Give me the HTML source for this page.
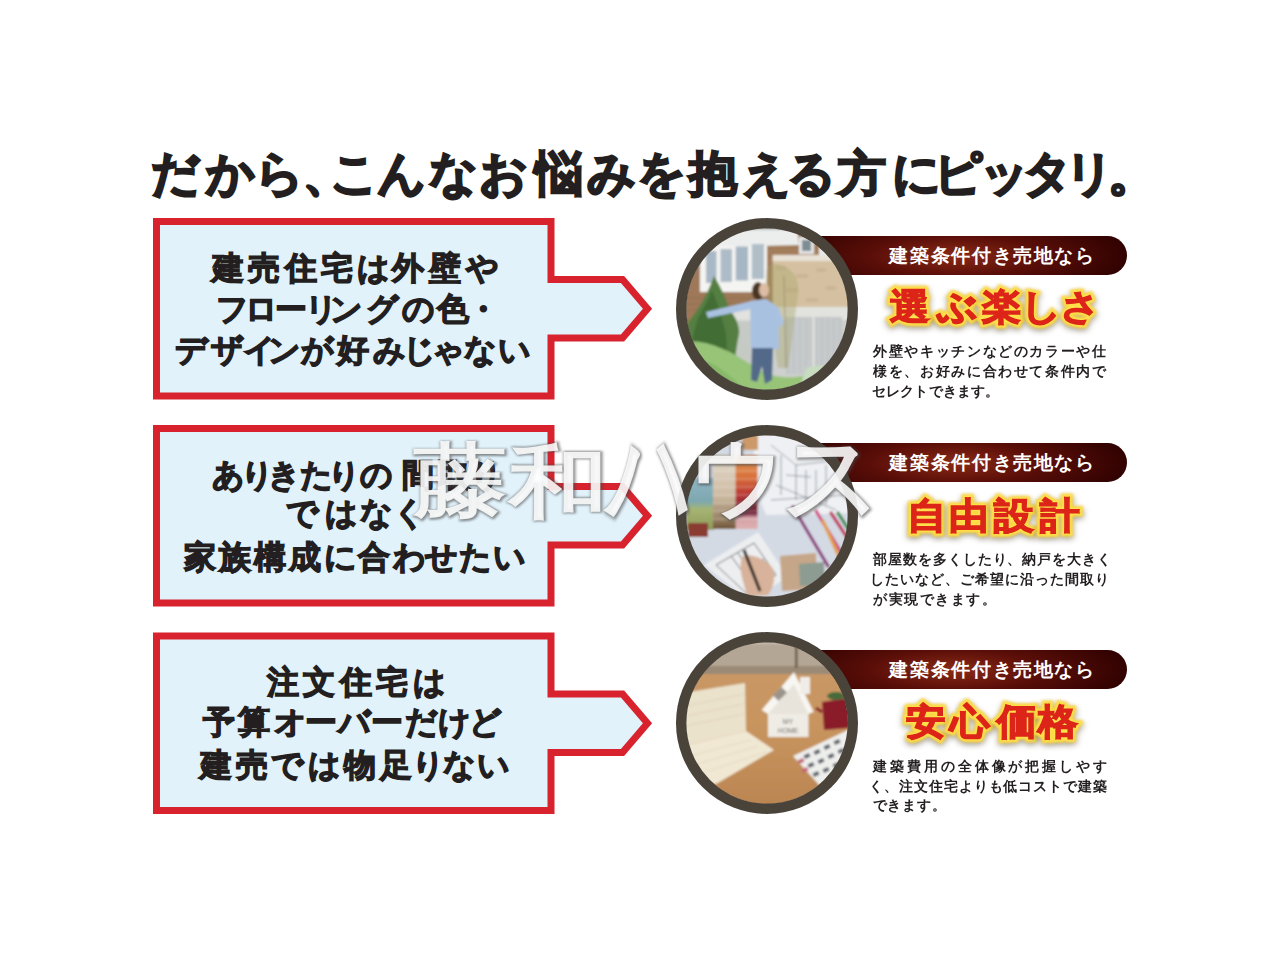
<!DOCTYPE html>
<html lang="ja">
<head>
<meta charset="utf-8">
<style>
html,body{margin:0;padding:0;background:#fff;}
body{width:1280px;height:960px;position:relative;overflow:hidden;font-family:"Liberation Sans",sans-serif;color:#231f20;}
.abs{position:absolute;}
.ln span{position:absolute;top:0;}
.title{position:absolute;left:0;top:143.5px;width:1280px;height:60px;font-size:48px;line-height:60px;font-weight:700;white-space:nowrap;-webkit-text-stroke:2.2px #231f20;}
.title span{position:absolute;top:0;}
.ln{position:absolute;width:1280px;height:40px;font-size:32px;line-height:40px;font-weight:700;white-space:nowrap;color:#231f20;-webkit-text-stroke:1.3px #231f20;}
.rib{position:absolute;left:780px;width:347px;height:39px;border-radius:0 20px 20px 0;
 background:radial-gradient(ellipse 190px 45px at 175px 20px,#8a2a16 0%,#5a0e08 45%,#2a0000 100%);}
.ribt{position:absolute;color:#fff;font-size:19px;line-height:39px;font-weight:700;white-space:nowrap;}
.head{position:absolute;width:1280px;height:48px;transform:scaleY(.91);transform-origin:50% 50%;font-size:40px;line-height:48px;font-weight:700;white-space:nowrap;}
.head span{position:absolute;top:0;}
.hy{color:#ffe04a;-webkit-text-stroke:6.5px #ffe04a;filter:blur(0.9px) drop-shadow(0 0 1.5px #f6c830) drop-shadow(0 3px 3px rgba(70,60,40,.45));}
.hr{color:#dc2418;-webkit-text-stroke:1.6px #dc2418;}
.desc{position:absolute;font-size:14px;line-height:20px;font-weight:700;color:#231f20;white-space:nowrap;}
.wm{position:absolute;left:0;top:0;width:1280px;height:960px;font-size:100px;line-height:110px;font-weight:400;white-space:nowrap;}
.wm span{position:absolute;left:0;top:0;}
.wc{transform-origin:0 0;}
.wm1{color:transparent;-webkit-text-stroke:5px rgba(70,70,70,.62);filter:blur(1.5px);transform:translate(1.5px,1px);}
.wm2{color:#fff;-webkit-text-stroke:2.5px #fff;opacity:.88;}
</style>
</head>
<body>
<div class="title"><span style="left:151.4px">だ</span><span style="left:206.1px">か</span><span style="left:254.9px">ら</span><span style="left:303.1px">、</span><span style="left:329.6px">こ</span><span style="left:377.3px">ん</span><span style="left:429.1px">な</span><span style="left:479.3px">お</span><span style="left:534.5px">悩</span><span style="left:586.8px">み</span><span style="left:637.0px">を</span><span style="left:688.8px">抱</span><span style="left:741.5px">え</span><span style="left:787.0px">る</span><span style="left:837.5px">方</span><span style="left:892.2px">に</span><span style="left:934.0px">ピ</span><span style="left:979.8px">ッ</span><span style="left:1022.9px">タ</span><span style="left:1064.8px">リ</span><span style="left:1108.0px">。</span></div>

<svg class="abs" style="left:0;top:0" width="1280" height="960" viewBox="0 0 1280 960">
 <g fill="#e1f2fb" stroke="#d8232e" stroke-width="7" stroke-linejoin="miter" stroke-miterlimit="10">
  <path d="M156.5 221.5 H551 V279.5 H622.5 L647.5 308.75 L622.5 338 H551 V396 H156.5 Z"/>
  <path d="M156.5 428.5 H551 V486.5 H622.5 L647.5 515.75 L622.5 545 H551 V603 H156.5 Z"/>
  <path d="M156.5 636 H551 V694 H622.5 L647.5 723.25 L622.5 752.5 H551 V810.5 H156.5 Z"/>
 </g>
</svg>

<!-- box texts -->
<div class="ln" id="b1l1" style="left:0px;top:248.0px"><span style="left:211.9px">建</span><span style="left:248.2px">売</span><span style="left:284.9px">住</span><span style="left:320.7px">宅</span><span style="left:356.9px">は</span><span style="left:392.3px">外</span><span style="left:428.9px">壁</span><span style="left:465.8px">や</span></div>
<div class="ln" id="b1l2" style="left:0px;top:289.0px"><span style="left:216.4px">フ</span><span style="left:244.9px">ロ</span><span style="left:275.2px">ー</span><span style="left:304.6px">リ</span><span style="left:330.4px">ン</span><span style="left:365.5px">グ</span><span style="left:401.6px">の</span><span style="left:437.1px">色</span><span style="left:467.0px">・</span></div>
<div class="ln" id="b1l3" style="left:0px;top:329.8px"><span style="left:174.9px">デ</span><span style="left:211.1px">ザ</span><span style="left:242.5px">イ</span><span style="left:268.1px">ン</span><span style="left:300.9px">が</span><span style="left:337.1px">好</span><span style="left:372.8px">み</span><span style="left:403.1px">じ</span><span style="left:431.8px">ゃ</span><span style="left:464.4px">な</span><span style="left:497.5px">い</span></div>

<div class="ln" id="b2l1" style="left:0px;top:454.8px"><span style="left:212.1px">あ</span><span style="left:241.0px">り</span><span style="left:268.4px">き</span><span style="left:300.2px">た</span><span style="left:327.7px">り</span><span style="left:359.8px">の</span><span style="left:401.6px">間</span><span style="left:438.0px">取</span><span style="left:470.0px">り</span></div>
<div class="ln" id="b2l2" style="left:0px;top:493.4px"><span style="left:286.4px">で</span><span style="left:325.1px">は</span><span style="left:360.2px">な</span><span style="left:392.6px">く</span></div>
<div class="ln" id="b2l3" style="left:0px;top:536.6px"><span style="left:184.2px">家</span><span style="left:219.3px">族</span><span style="left:254.0px">構</span><span style="left:288.7px">成</span><span style="left:323.6px">に</span><span style="left:358.3px">合</span><span style="left:392.6px">わ</span><span style="left:424.8px">せ</span><span style="left:458.6px">た</span><span style="left:492.5px">い</span></div>

<div class="ln" id="b3l1" style="left:0px;top:661.9px"><span style="left:267.0px">注</span><span style="left:302.6px">文</span><span style="left:339.8px">住</span><span style="left:375.7px">宅</span><span style="left:412.5px">は</span></div>
<div class="ln" id="b3l2" style="left:0px;top:701.6px"><span style="left:202.7px">予</span><span style="left:238.1px">算</span><span style="left:273.8px">オ</span><span style="left:304.9px">ー</span><span style="left:338.1px">バ</span><span style="left:371.4px">ー</span><span style="left:405.1px">だ</span><span style="left:438.4px">け</span><span style="left:468.6px">ど</span></div>
<div class="ln" id="b3l3" style="left:0px;top:744.75px"><span style="left:200.3px">建</span><span style="left:235.9px">売</span><span style="left:271.3px">で</span><span style="left:307.8px">は</span><span style="left:344.1px">物</span><span style="left:380.3px">足</span><span style="left:412.3px">り</span><span style="left:443.4px">な</span><span style="left:477.2px">い</span></div>

<!-- ribbons -->
<div class="rib" style="top:235.5px"></div>
<div class="rib" style="top:442.5px"></div>
<div class="rib" style="top:649.5px"></div>
<div class="ribt" id="rt1" style="left:889.4px;top:236.3px;letter-spacing:1.63px">建築条件付き売地なら</div>
<div class="ribt" id="rt2" style="left:889.4px;top:443.3px;letter-spacing:1.63px">建築条件付き売地なら</div>
<div class="ribt" id="rt3" style="left:889.4px;top:650.3px;letter-spacing:1.63px">建築条件付き売地なら</div>

<!-- circles -->
<svg class="abs" style="left:676px;top:218px" width="182" height="182" viewBox="0 0 182 182">
 <defs><clipPath id="c1"><circle cx="91" cy="91" r="81"/></clipPath><filter id="bl" x="-5%" y="-5%" width="110%" height="110%"><feGaussianBlur stdDeviation="1"/></filter><filter id="bl2" x="-20%" y="-20%" width="140%" height="140%"><feGaussianBlur stdDeviation="4"/></filter></defs>
 <g clip-path="url(#c1)"><g filter="url(#bl)">
  <rect width="182" height="182" fill="#e8ebea"/>
  <rect x="0" y="40" width="100" height="80" fill="#9e7858"/>
  <rect x="91" y="14" width="52" height="32" fill="#a47e5c"/>
  <g stroke="#8a6648" stroke-width=".6" opacity=".6"><path d="M0 80 H100 M0 86 H100 M0 92 H100 M91 22 H143 M91 30 H143 M91 38 H143"/></g>
  <polygon points="43,12 121,10 123,27 43,29" fill="#eceeee"/>
  <rect x="43" y="9" width="80" height="3" fill="#b8bcbc"/>
  <rect x="123" y="19" width="15" height="17" fill="#e4e6e6"/>
  <rect x="126" y="22" width="9" height="11" fill="#7e8c94"/>
  <rect x="24" y="28" width="67" height="46" fill="#f4f4f2"/>
  <rect x="30" y="33" width="10.5" height="32" fill="#a8b8c6"/>
  <rect x="44.5" y="31" width="11.5" height="33" fill="#aebcc8"/>
  <rect x="59.7" y="28.5" width="12.3" height="34" fill="#a6b6c4"/>
  <rect x="75.8" y="26" width="12.2" height="35" fill="#b0bec8"/>
  <rect x="96.7" y="38" width="80" height="56" fill="#d5c1a2"/>
  <g fill="#c8b290" opacity=".7"><rect x="100" y="48" width="10" height="4"/><rect x="120" y="56" width="12" height="4"/><rect x="140" y="50" width="10" height="4"/><rect x="110" y="70" width="12" height="4"/><rect x="150" y="68" width="10" height="4"/><rect x="130" y="80" width="12" height="4"/></g>
  <rect x="96.7" y="37" width="60" height="6" fill="#e8e2d6"/>
  <rect x="49" y="89" width="130" height="13" fill="#e2e2de"/>
  <rect x="57" y="102" width="125" height="60" fill="#cdd0ce"/>
  <rect x="110" y="99" width="56" height="57" fill="#c2c6c8"/>
  <g stroke="#d6d8d8" stroke-width=".8"><path d="M115 100 V155 M121 100 V155 M127 100 V155 M133 100 V155 M143 100 V155 M149 100 V155 M155 100 V155 M161 100 V155"/></g>
  <rect x="136.5" y="99" width="2" height="57" fill="#e8e8e4"/>
  <rect x="57" y="104" width="22" height="48" fill="#c6cac4"/>
  <path d="M91 48 C104 42 126 52 122 78 C118 100 116 128 112 150 L102 150 C98 120 86 78 91 48 Z" fill="#a8a468" opacity=".4"/>
  <path d="M108 58 L110 150" stroke="#7a6a50" stroke-width="1" opacity=".5"/>
  <path d="M38 58 C44 68 50 80 54 92 C60 100 64 108 63 116 C60 130 58 150 56 170 L8 170 C6 150 8 120 12 104 C20 95 30 80 38 58 Z" fill="#557f42"/>
  <path d="M36 72 C42 86 46 100 50 115 C52 135 50 150 46 165 L14 165 C12 140 16 118 22 100 C28 90 32 82 36 72 Z" fill="#426e34"/>
  <path d="M0 125 C25 118 55 132 80 150 C100 162 120 162 150 152 L182 145 L182 182 L0 182 Z" fill="#98c478"/>
  <path d="M0 140 C25 136 45 148 65 168 L70 182 L0 182 Z" fill="#86b868"/>
  <path d="M130 150 C150 145 170 148 182 150 L182 182 L120 182 Z" fill="#c8dcc0"/>
  <path d="M30 94 L76 83 L80 90 L32 100 Z" fill="#aac2e2"/>
  <path d="M74 83 L90 81 L102 89 L103 131 L75 131 Z" fill="#a9c1e1"/>
  <path d="M102 89 L108 104 L104 110 L101 100 Z" fill="#aac2e2"/>
  <ellipse cx="82" cy="73" rx="6" ry="9" fill="#4a3424"/>
  <ellipse cx="88" cy="72" rx="5" ry="7" fill="#dcbca4"/>
  <path d="M76 130 L97 130 L96 162 L89 166 L86 148 L81 164 L75 162 Z" fill="#52698a"/>
 </g></g>
 <circle cx="91" cy="91" r="85.8" fill="none" stroke="#4a433a" stroke-width="10.4"/>
</svg>
<svg class="abs" style="left:676px;top:425px" width="182" height="182" viewBox="0 0 182 182">
 <defs><clipPath id="c2"><circle cx="91" cy="91" r="81"/></clipPath>
  <linearGradient id="sw1" x1="0" y1="0" x2="0" y2="1"><stop offset="0" stop-color="#e2d8ca"/><stop offset=".55" stop-color="#cdbba2"/><stop offset=".85" stop-color="#9a8468"/><stop offset="1" stop-color="#6e5236"/></linearGradient>
  <linearGradient id="sw2" x1="0" y1="0" x2="0" y2="1"><stop offset="0" stop-color="#e39a58"/><stop offset=".3" stop-color="#d87038"/><stop offset=".55" stop-color="#b83434"/><stop offset=".78" stop-color="#6a1c34"/><stop offset=".85" stop-color="#d6a2a8"/><stop offset="1" stop-color="#dcb0b0"/></linearGradient>
  <linearGradient id="sw3" x1="0" y1="0" x2="0" y2="1"><stop offset="0" stop-color="#8eb4c4"/><stop offset=".45" stop-color="#7ea8b0"/><stop offset=".6" stop-color="#a6b474"/><stop offset="1" stop-color="#8e9a58"/></linearGradient>
 </defs>
 <g clip-path="url(#c2)"><g filter="url(#bl)">
  <rect width="182" height="182" fill="#d4dae4"/>
  <polygon points="78,0 182,0 182,88 90,90 78,60" fill="#eef0f3"/>
  <g stroke="#4a5464" stroke-width=".7" fill="none" opacity=".75">
   <path d="M95 20 L120 40 L120 75 M120 40 L165 35 M105 30 L105 70 M130 45 L130 80 M140 45 L140 78 M95 75 L170 70 M100 60 L160 85 M150 40 L150 80 M110 50 L135 52"/>
  </g>
  <rect x="10" y="53" width="28" height="52" fill="url(#sw3)"/>
  <rect x="12" y="98" width="20" height="14" fill="#8a3a30"/>
  <rect x="37" y="30" width="23" height="74" fill="url(#sw1)"/>
  <rect x="59.6" y="30" width="22" height="74" fill="url(#sw2)"/>
  <rect x="66" y="10" width="16" height="15" fill="#cc9a6a"/>
  <g stroke="#f4f0ea" stroke-width=".6" opacity=".7">
   <path d="M37 38 H82 M37 46 H82 M37 54 H82 M37 62 H82 M37 70 H82 M37 78 H82 M37 86 H82 M37 94 H82"/>
  </g>
  <polygon points="28,140 82,107 112,152 74,176" fill="#eceef0"/>
  <g stroke="#30343a" stroke-width=".7" fill="none">
   <path d="M40 140 L78 118 L100 150 L70 168 Z M55 131 L80 165 M62 128 L72 143 L88 134"/>
  </g>
  <polygon points="104,131 140,128 141,164 106,166" fill="#c6a688"/>
  <polygon points="123,139 148,137 149,160 124,161" fill="#8c9c92"/>
  <path d="M66 132 C74 128 86 132 96 142 C100 152 98 162 92 170 L72 172 C68 160 62 145 66 132 Z" fill="#d8b29a"/>
  <path d="M68 125 L84 166" stroke="#1a1a1a" stroke-width="3"/>
  <g stroke-width="3.2" stroke-linecap="round">
   <path d="M117 82 L152 141" stroke="#8a3a7a"/>
   <path d="M140 86 L168 132" stroke="#d04a84"/>
   <path d="M147 96 L165 136" stroke="#e2a048"/>
   <path d="M155 88 L176 120" stroke="#c0385a"/>
   <path d="M162 88 L180 116" stroke="#3a8a4a"/>
  </g>
 </g></g>
 <circle cx="91" cy="91" r="85.8" fill="none" stroke="#4a433a" stroke-width="10.4"/>
</svg>
<svg class="abs" style="left:676px;top:632px" width="182" height="182" viewBox="0 0 182 182">
 <defs><clipPath id="c3"><circle cx="91" cy="91" r="81"/></clipPath>
  <linearGradient id="wd" x1="0" y1="0" x2="0" y2="1"><stop offset="0" stop-color="#c9996a"/><stop offset=".5" stop-color="#c8955f"/><stop offset="1" stop-color="#ba8450"/></linearGradient>
 </defs>
 <g clip-path="url(#c3)"><g filter="url(#bl)">
  <rect width="182" height="182" fill="url(#wd)"/>
  <rect x="0" y="0" width="182" height="42" fill="#b4a694"/>
  <rect x="0" y="0" width="182" height="12" fill="#c8bcac"/>
  <rect x="0" y="34" width="182" height="8" fill="#9a8a76"/>
  <rect x="119" y="14" width="2.5" height="22" fill="#6a5a4a"/>
  <polygon points="0,62 69,51 70,99 0,116" fill="#ebe2cc"/>
  <polygon points="0,116 70,99 98,118 40,152 0,150" fill="#f1e8d4"/>
  <g stroke="#d8cbb0" stroke-width=".6"><path d="M5 75 L68 62 M5 85 L68 72 M5 95 L68 82 M10 125 L75 108 M18 133 L82 114 M26 141 L90 120"/></g>
  <rect x="92" y="75" width="40.5" height="30" fill="#efece6"/>
  <polygon points="85.7,78 118,40 137.7,80 132,82 118,56 92,82" fill="#f8f6f2"/>
  <polygon points="92,82 118,52 132,82" fill="#e8e4dc"/>
  <rect x="124" y="45" width="10" height="17" fill="#f0ede8"/>
  <rect x="98" y="58" width="12" height="8" fill="#9a948a" transform="rotate(-45 104 62)"/>
  <text x="112" y="92" font-size="7" fill="#6a6560" text-anchor="middle" font-family="Liberation Sans">MY</text>
  <text x="112" y="101" font-size="7" fill="#6a6560" text-anchor="middle" font-family="Liberation Sans">HOME</text>
  <path d="M146 70 L172 66 L174 96 L148 98 Z" fill="#8a1e2c"/>
  <path d="M140 76 L146 80" stroke="#8a1e2c" stroke-width="3"/>
  <ellipse cx="160" cy="64" rx="9" ry="4" fill="#4a6a3a"/>
  <polygon points="117,124 176,96 180,152 144,154" fill="#eeeeec"/>
  <g fill="#5e646c"><rect x="128" y="122" width="6" height="4" transform="rotate(-25 131 124)"/><rect x="138" y="118" width="6" height="4" transform="rotate(-25 141 120)"/><rect x="148" y="113" width="6" height="4" transform="rotate(-25 151 115)"/><rect x="158" y="108" width="6" height="4" transform="rotate(-25 161 110)"/><rect x="132" y="131" width="6" height="4" transform="rotate(-25 135 133)"/><rect x="142" y="127" width="6" height="4" transform="rotate(-25 145 129)"/><rect x="152" y="122" width="6" height="4" transform="rotate(-25 155 124)"/><rect x="162" y="117" width="6" height="4" transform="rotate(-25 165 119)"/><rect x="137" y="140" width="6" height="4" transform="rotate(-25 140 142)"/><rect x="147" y="136" width="6" height="4" transform="rotate(-25 150 138)"/><rect x="157" y="131" width="6" height="4" transform="rotate(-25 160 133)"/></g>
  <g fill="#c46878"><rect x="122" y="127" width="6" height="4" transform="rotate(-25 125 129)"/><rect x="126" y="136" width="6" height="4" transform="rotate(-25 129 138)"/></g>
 </g></g>
 <circle cx="91" cy="91" r="85.8" fill="none" stroke="#4a433a" stroke-width="10.4"/>
</svg>

<!-- headings -->
<div class="head" id="h1" style="left:0px;top:281.6px"><span class="hy" style="left:890.2px">選</span><span class="hy" style="left:937.0px">ぶ</span><span class="hy" style="left:981.5px">楽</span><span class="hy" style="left:1020.5px">し</span><span class="hy" style="left:1060.0px">さ</span><span class="hr" style="left:890.2px">選</span><span class="hr" style="left:937.0px">ぶ</span><span class="hr" style="left:981.5px">楽</span><span class="hr" style="left:1020.5px">し</span><span class="hr" style="left:1060.0px">さ</span></div>
<div class="head" id="h2" style="left:0px;top:490.7px"><span class="hy" style="left:907.3px">自</span><span class="hy" style="left:949.4px">由</span><span class="hy" style="left:994.2px">設</span><span class="hy" style="left:1039.7px">計</span><span class="hr" style="left:907.3px">自</span><span class="hr" style="left:949.4px">由</span><span class="hr" style="left:994.2px">設</span><span class="hr" style="left:1039.7px">計</span></div>
<div class="head" id="h3" style="left:0px;top:696.9px"><span class="hy" style="left:906.0px">安</span><span class="hy" style="left:950.2px">心</span><span class="hy" style="left:997.0px">価</span><span class="hy" style="left:1038.1px">格</span><span class="hr" style="left:906.0px">安</span><span class="hr" style="left:950.2px">心</span><span class="hr" style="left:997.0px">価</span><span class="hr" style="left:1038.1px">格</span></div>

<!-- descriptions -->
<div class="desc" id="r1l1" style="left:873.2px;top:341.0px;letter-spacing:1.63px">外壁やキッチンなどのカラーや仕</div>
<div class="desc" id="r1l2" style="left:873.2px;top:361.0px;letter-spacing:1.63px">様を、お好みに合わせて条件内で</div>
<div class="desc" id="r1l3" style="left:872.2px;top:380.7px;letter-spacing:0.1px">セレクトできます。</div>
<div class="desc" id="r2l1" style="left:873.2px;top:548.5px;letter-spacing:0.92px">部屋数を多くしたり、納戸を大きく</div>
<div class="desc" id="r2l2" style="left:870.2px;top:568.6px;letter-spacing:0.99px">したいなど、ご希望に沿った間取り</div>
<div class="desc" id="r2l3" style="left:873.2px;top:588.5px;letter-spacing:1.49px">が実現できます。</div>
<div class="desc" id="r3l1" style="left:873.2px;top:755.9px;letter-spacing:2.91px">建築費用の全体像が把握しやす</div>
<div class="desc" id="r3l2" style="left:869.2px;top:776.0px;letter-spacing:0.92px">く、注文住宅よりも低コストで建築</div>
<div class="desc" id="r3l3" style="left:872.6px;top:795.2px;letter-spacing:0.82px">できます。</div>

<!-- watermark -->
<div class="wm"><span class="wc" style="left:413.2px;top:436.2px;transform:scale(0.946,0.804)"><span class="wm1">藤</span><span class="wm2">藤</span></span><span class="wc" style="left:507.7px;top:437.8px;transform:scale(0.999,0.796)"><span class="wm1">和</span><span class="wm2">和</span></span><span class="wc" style="left:607.4px;top:402.6px;transform:scale(0.838,1.263)"><span class="wm1">ハ</span><span class="wm2">ハ</span></span><span class="wc" style="left:688.3px;top:429.0px;transform:scale(0.973,0.865)"><span class="wm1">ウ</span><span class="wm2">ウ</span></span><span class="wc" style="left:781.7px;top:421.0px;transform:scale(0.978,1.000)"><span class="wm1">ス</span><span class="wm2">ス</span></span></div>
</body>
</html>
